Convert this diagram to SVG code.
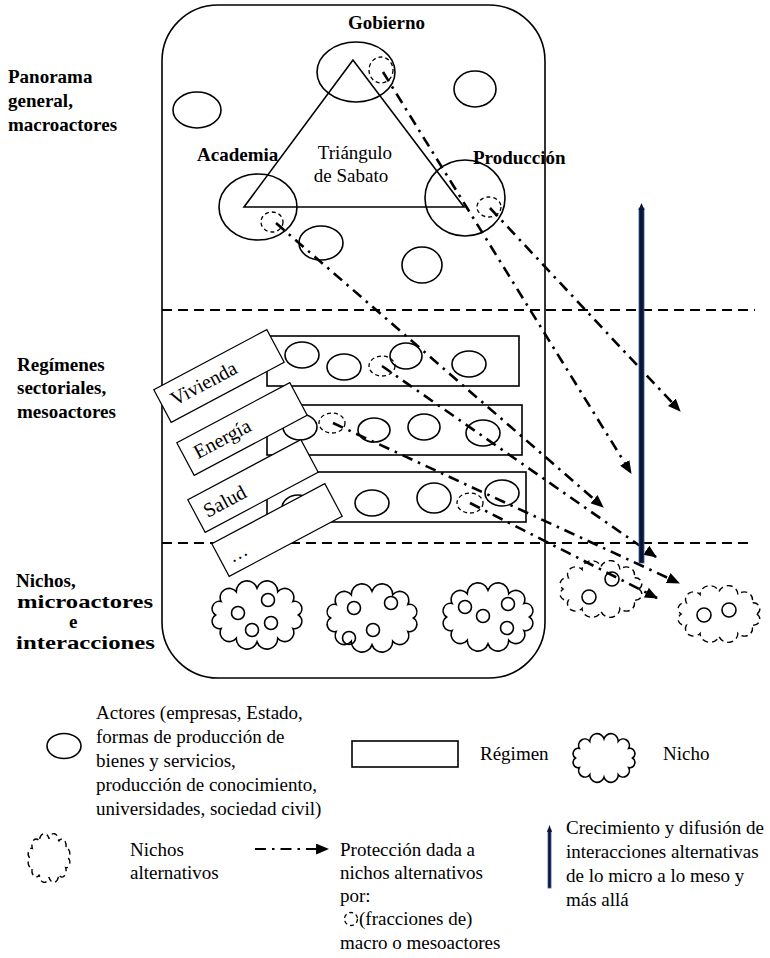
<svg xmlns="http://www.w3.org/2000/svg" width="770" height="958" viewBox="0 0 770 958" font-family="'Liberation Serif', 'DejaVu Serif', serif">
<style>
text{font-family:'Liberation Serif','DejaVu Serif',serif;font-size:19px;fill:#000}
.b{font-weight:bold}
.ln{fill:none;stroke:#000;stroke-width:1.6}
.dc{fill:none;stroke:#000;stroke-width:1.3;stroke-dasharray:4 3}
.sep{stroke:#000;stroke-width:2.2;stroke-dasharray:10 6;fill:none}
.dd{fill:none;stroke:#000;stroke-width:2.6;stroke-dasharray:11 6 2.5 6;marker-end:url(#ah)}
.box{fill:#fff;stroke:#000;stroke-width:1.2}
.cl{fill:none;stroke:#000;stroke-width:1.6}
.cld{fill:none;stroke:#000;stroke-width:1.4;stroke-dasharray:6 4}
.bar{fill:#0b1538;stroke:#3b5998;stroke-width:0.8}
</style>
<defs>
<marker id="ah" viewBox="0 0 12 10" refX="11" refY="5" markerUnits="userSpaceOnUse" markerWidth="13" markerHeight="11" orient="auto"><path d="M0,0 L12,5 L0,10 Z" fill="#000"/></marker>
<path id="cloud" vector-effect="non-scaling-stroke" d="M37,0 A6.6,6.6 0 0 1 32,12 A8.1,8.1 0 0 1 18.5,20.8 A9.5,9.5 0 0 1 0,24 A9.5,9.5 0 0 1 -18.5,20.8 A8.1,8.1 0 0 1 -32,12 A6.6,6.6 0 0 1 -37,0 A6.6,6.6 0 0 1 -32,-12 A8.1,8.1 0 0 1 -18.5,-20.8 A9.5,9.5 0 0 1 0,-24 A9.5,9.5 0 0 1 18.5,-20.8 A8.1,8.1 0 0 1 32,-12 A6.6,6.6 0 0 1 37,0 Z"/>
</defs>
<rect width="770" height="958" fill="#fff"/>

<g id="container"><rect x="162" y="5" width="383" height="673" rx="56" ry="56" class="ln"/></g>

<g id="separators">
<line x1="162" y1="310" x2="755" y2="310" class="sep"/>
<line x1="162" y1="543" x2="752" y2="543" class="sep"/>
</g>

<g id="lbl-macro"><text class="b" x="8" y="83">Panorama</text><text class="b" x="8" y="107">general,</text><text class="b" x="8" y="131">macroactores</text></g>
<g id="lbl-meso"><text class="b" x="17" y="371">Regímenes</text><text class="b" x="17" y="394">sectoriales,</text><text class="b" x="17" y="418">mesoactores</text></g>
<g id="lbl-micro"><text class="b" x="16" y="587">Nichos,</text><text class="b" x="17" y="608" textLength="136" lengthAdjust="spacingAndGlyphs">microactores</text><text class="b" x="69" y="628">e</text><text class="b" x="16" y="649" textLength="139" lengthAdjust="spacingAndGlyphs">interacciones</text></g>

<g id="triangulo">
<polygon points="353,60 244,207 464,207" class="ln"/>
<text x="355" y="159" text-anchor="middle">Triángulo</text>
<text x="351" y="182" text-anchor="middle">de Sabato</text>
</g>
<g id="gobierno"><ellipse cx="356" cy="72" rx="39" ry="30" class="ln"/><text class="b" x="348" y="29">Gobierno</text><ellipse cx="381" cy="70" rx="12" ry="13" class="dc"/></g>
<g id="academia"><ellipse cx="258" cy="207" rx="39" ry="33" class="ln"/><text class="b" x="197" y="161">Academia</text><ellipse cx="272" cy="222" rx="11" ry="10" class="dc"/></g>
<g id="produccion"><ellipse cx="465" cy="198" rx="40" ry="38" class="ln"/><text class="b" x="473" y="164">Producción</text><ellipse cx="489" cy="207" rx="12" ry="10" class="dc"/></g>
<g id="macro-actores">
<ellipse cx="197" cy="110" rx="24" ry="18" class="ln"/>
<ellipse cx="475" cy="89" rx="21" ry="18" class="ln"/>
<ellipse cx="321" cy="243" rx="22" ry="17" class="ln"/>
<ellipse cx="422" cy="265" rx="20" ry="18" class="ln"/>
</g>

<g id="regimen-vivienda">
<rect x="267" y="336" width="252" height="50" class="ln"/>
<ellipse cx="302" cy="355" rx="17" ry="13" class="ln"/>
<ellipse cx="344" cy="367" rx="17" ry="13" class="ln"/>
<ellipse cx="382" cy="366" rx="13" ry="10" class="dc"/>
<ellipse cx="406" cy="356" rx="16" ry="13" class="ln"/>
<ellipse cx="469" cy="364" rx="17" ry="13" class="ln"/>
</g>
<g id="regimen-energia">
<rect x="267" y="405" width="255" height="50" class="ln"/>
<ellipse cx="300" cy="427" rx="17" ry="13" class="ln"/>
<ellipse cx="332" cy="423" rx="13" ry="10" class="dc"/>
<ellipse cx="374" cy="430" rx="16" ry="12" class="ln"/>
<ellipse cx="424" cy="427" rx="16" ry="13" class="ln"/>
<ellipse cx="483" cy="433" rx="17" ry="13" class="ln"/>
</g>
<g id="regimen-salud">
<rect x="267" y="472" width="259" height="50" class="ln"/>
<ellipse cx="298" cy="508" rx="16" ry="13" class="ln"/>
<ellipse cx="372" cy="503" rx="17" ry="13" class="ln"/>
<ellipse cx="434" cy="498" rx="17" ry="15" class="ln"/>
<ellipse cx="470" cy="503" rx="13" ry="10" class="dc"/>
<ellipse cx="502" cy="493" rx="17" ry="13" class="ln"/>
</g>

<g id="tag-vivienda" transform="translate(219,376) rotate(-28)"><rect x="-64" y="-18.5" width="128" height="37" class="box"/><text x="-53" y="6" style="font-size:20px">Vivienda</text></g>
<g id="tag-energia" transform="translate(242,429) rotate(-28)"><rect x="-64" y="-18.5" width="128" height="37" class="box"/><text x="-53" y="6" style="font-size:20px">Energía</text></g>
<g id="tag-salud" transform="translate(253,486) rotate(-28)"><rect x="-64" y="-18.5" width="128" height="37" class="box"/><text x="-55" y="7" style="font-size:20px">Salud</text></g>
<g id="tag-otros" transform="translate(277,530) rotate(-28)"><rect x="-64" y="-18.5" width="128" height="37" class="box"/><text x="-55" y="8">…</text></g>

<g id="nicho-1"><use href="#cloud" transform="translate(257,615) scale(1.12,1.12)" class="cl"/><circle cx="238" cy="613" r="6.5" class="ln"/><circle cx="268" cy="600" r="6.5" class="ln"/><circle cx="252" cy="630" r="6.5" class="ln"/><circle cx="271" cy="623" r="6.5" class="ln"/></g>
<g id="nicho-2"><use href="#cloud" transform="translate(372,618) scale(1.12,1.12)" class="cl"/><circle cx="354" cy="608" r="6.5" class="ln"/><circle cx="391" cy="603" r="6.5" class="ln"/><circle cx="373" cy="630" r="6.5" class="ln"/><circle cx="349" cy="638" r="6.5" class="ln"/></g>
<g id="nicho-3"><use href="#cloud" transform="translate(488,617) scale(1.12,1.12)" class="cl"/><circle cx="465" cy="607" r="6.5" class="ln"/><circle cx="483" cy="616" r="6.5" class="ln"/><circle cx="508" cy="604" r="6.5" class="ln"/><circle cx="507" cy="628" r="6.5" class="ln"/></g>
<g id="nicho-alt-1"><use href="#cloud" transform="translate(601,589) scale(1.02,0.93)" class="cld"/><circle cx="612" cy="579" r="7" class="ln"/><circle cx="589" cy="597" r="7" class="ln"/></g>
<g id="nicho-alt-2"><use href="#cloud" transform="translate(719,614) scale(1.02,0.93)" class="cld"/><circle cx="704" cy="615" r="7" class="ln"/><circle cx="729" cy="610" r="7" class="ln"/></g>

<g id="connectors">
<line x1="383" y1="72" x2="631" y2="473" class="dd"/>
<line x1="490" y1="208" x2="680" y2="411" class="dd"/>
<line x1="276" y1="223" x2="603" y2="507" class="dd"/>
<line x1="382" y1="366" x2="656" y2="557" class="dd"/>
<line x1="333" y1="423" x2="679" y2="583" class="dd"/>
<line x1="470" y1="503" x2="657" y2="598" class="dd"/>
</g>

<g id="crecimiento-bar">
<rect x="639" y="208" width="5" height="355" class="bar"/>
<polygon points="641.5,203 638.5,210 644.5,210" fill="#0b1538"/>
</g>

<g id="legend-actores"><ellipse cx="64" cy="746" rx="17" ry="12.5" class="ln"/>
<text x="96" y="719">Actores (empresas, Estado,</text>
<text x="96" y="743">formas de producción de</text>
<text x="96" y="767">bienes y servicios,</text>
<text x="96" y="791">producción de conocimiento,</text>
<text x="96" y="815">universidades, sociedad civil)</text></g>
<g id="legend-regimen"><rect x="352" y="741" width="106" height="26" class="ln"/><text x="480" y="760">Régimen</text></g>
<g id="legend-nicho"><use href="#cloud" transform="translate(604,758) scale(0.77,0.8)" class="cl"/><text x="663" y="760">Nicho</text></g>
<g id="legend-nicho-alt"><use href="#cloud" transform="translate(49,858) scale(0.52,0.8)" class="cld"/><text x="130" y="856">Nichos</text><text x="130" y="879">alternativos</text></g>
<g id="legend-proteccion"><line x1="255" y1="849" x2="328" y2="849" class="dd" style="stroke-width:2.2"/>
<text x="340" y="856">Protección dada a</text>
<text x="340" y="879">nichos alternativos</text>
<text x="340" y="902">por:</text>
<ellipse cx="351" cy="919" rx="6.5" ry="6.5" class="dc"/>
<text x="359" y="925">(fracciones de)</text>
<text x="340" y="949">macro o mesoactores</text></g>
<g id="legend-crecimiento"><rect x="548" y="830" width="3" height="58" class="bar"/><polygon points="549.5,825 547,832 552,832" fill="#0b1538"/>
<text x="566" y="834">Crecimiento y difusión de</text>
<text x="566" y="858">interacciones alternativas</text>
<text x="566" y="882">de lo micro a lo meso y</text>
<text x="566" y="906">más allá</text></g>
</svg>
